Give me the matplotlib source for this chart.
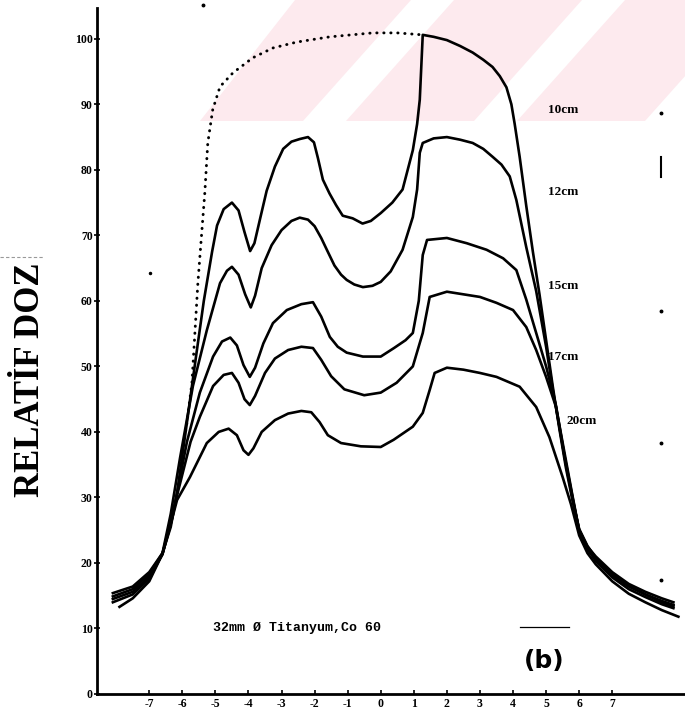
import matplotlib
matplotlib.use("Agg")
import matplotlib.pyplot as plt
from matplotlib.patches import Polygon
from matplotlib.lines import Line2D

# ---------------- data ----------------
x_open = [-6.0, -5.86, -5.71, -5.62, -5.53, -5.45, -5.32, -5.23, -5.08, -4.86, -4.47,
          -3.87, -3.26, -2.54, -1.54, -0.24, 0.5, 1.27]
y_open = [37.0, 41.4, 47.5, 55.1, 62.7, 68.0, 76.5, 84.1, 89.2, 92.7, 94.8,
          97.1, 98.6, 99.5, 100.3, 100.9, 100.9, 100.6]

x10 = [-8.1, -7.5, -7.0, -6.6, -6.35, -6.15, -5.9, -5.6, -5.35, -5.1, -4.95, -4.75, -4.5,
       -4.3, -4.12, -3.95, -3.82, -3.65, -3.45, -3.2, -2.95, -2.7, -2.45, -2.2, -2.02,
       -1.9, -1.75, -1.55, -1.35, -1.15, -0.85, -0.55, -0.3, 0.0, 0.35, 0.66, 0.97, 1.1,
       1.18, 1.27, 1.6, 2.0, 2.4, 2.78, 3.1, 3.38, 3.6, 3.8, 3.95, 4.05, 4.2, 4.4, 4.6,
       4.8, 5.0, 5.2, 5.4, 5.6, 5.8, 6.0, 6.25, 6.5, 7.0, 7.5, 8.0, 8.5, 8.85]
y10 = [15.4, 16.4, 18.6, 21.5, 25.5, 31.0, 40.0, 51.0, 60.0, 67.5, 71.5, 74.0, 75.0,
       73.8, 70.5, 67.6, 68.8, 72.5, 76.8, 80.5, 83.2, 84.3, 84.7, 85.0, 84.2,
       81.8, 78.5, 76.4, 74.6, 73.0, 72.6, 71.8, 72.2, 73.4, 75.0, 77.0, 83.0, 87.0,
       90.7, 100.6, 100.3, 99.8, 98.9, 97.9, 96.8, 95.7, 94.3, 92.6, 90.0, 87.0, 82.0, 74.5, 67.5,
       61.0, 54.0, 47.0, 40.5, 34.5, 29.5, 25.2, 22.6, 20.8, 18.3, 16.5, 15.2, 14.0, 13.4]

x12 = [-8.1, -7.5, -7.0, -6.6, -6.35, -6.07, -5.68, -5.26, -4.86, -4.65, -4.5, -4.3, -4.1,
       -3.93, -3.8, -3.6, -3.3, -3.0, -2.7, -2.45, -2.2, -2.0, -1.8, -1.63, -1.4, -1.2,
       -1.03, -0.8, -0.54, -0.25, 0.0, 0.3, 0.66, 0.97, 1.1, 1.18, 1.27, 1.6, 2.0, 2.4,
       2.78, 3.1, 3.38, 3.65, 3.9, 4.1, 4.4, 4.7, 5.0, 5.2, 5.4, 5.6, 5.8, 6.0, 6.25,
       6.5, 7.0, 7.5, 8.0, 8.5, 8.85]
y12 = [14.9, 16.0, 18.3, 21.5, 27.5, 36.0, 47.0, 55.5, 62.7, 64.6, 65.2, 64.0, 61.0,
       59.0, 60.8, 65.0, 68.5, 70.8, 72.2, 72.7, 72.4, 71.4, 69.6, 67.8, 65.4, 64.0,
       63.2, 62.5, 62.1, 62.3, 62.9, 64.5, 67.8, 72.8, 77.0, 82.6, 84.1, 84.8, 85.0, 84.6,
       84.1, 83.2, 82.0, 80.8, 79.0, 75.4, 68.2, 61.5, 53.0, 46.5, 40.8, 35.0, 29.8, 25.0, 22.2,
       20.3, 17.8, 16.0, 14.8, 13.7, 13.1]

x15 = [-8.1, -7.5, -7.0, -6.6, -6.3, -5.86, -5.47, -5.07, -4.8, -4.55, -4.35, -4.15,
       -3.96, -3.8, -3.55, -3.26, -2.84, -2.4, -2.05, -1.8, -1.54, -1.3, -1.03, -0.54,
       0.0, 0.4, 0.75, 0.97, 1.15, 1.27, 1.4, 2.0, 2.6, 3.2, 3.7, 4.1, 4.4, 4.7, 5.0,
       5.3, 5.55, 5.8, 6.0, 6.25, 6.5, 7.0, 7.5, 8.0, 8.5, 8.85]
y15 = [14.5, 15.6, 17.9, 21.3, 27.0, 38.5, 46.0, 51.5, 53.8, 54.4, 53.2, 50.2,
       48.4, 49.8, 53.5, 56.6, 58.6, 59.5, 59.8, 57.6, 54.5, 53.0, 52.1, 51.5,
       51.5, 52.8, 54.0, 55.1, 60.0, 67.0, 69.3, 69.6, 68.8, 67.8, 66.5, 64.7, 60.2, 55.1, 50.0,
       44.0, 36.5, 30.0, 24.8, 22.0, 20.6, 18.1, 16.4, 15.2, 14.2, 13.6]

x17 = [-8.1, -7.5, -7.0, -6.6, -6.3, -6.0, -5.75, -5.47, -5.07, -4.75, -4.5, -4.3, -4.12,
       -3.96, -3.8, -3.5, -3.2, -2.8, -2.4, -2.05, -1.8, -1.5, -1.1, -0.5, 0.0, 0.48,
       0.97, 1.27, 1.48, 2.0, 2.5, 3.0, 3.5, 4.0, 4.4, 4.7, 5.0, 5.3, 5.55, 5.8, 6.0,
       6.25, 6.5, 7.0, 7.5, 8.0, 8.5, 8.85]
y17 = [14.0, 15.2, 17.6, 21.4, 27.5, 33.5, 38.5, 42.3, 47.0, 48.7, 49.0, 47.5, 45.0,
       44.1, 45.5, 49.0, 51.2, 52.5, 53.0, 52.8, 51.0, 48.5, 46.5, 45.6, 46.0, 47.5,
       50.0, 55.1, 60.6, 61.4, 61.0, 60.6, 59.7, 58.6, 56.0, 52.5, 48.4, 43.8, 37.0, 30.2, 25.0,
       22.5, 21.0, 18.6, 16.8, 15.6, 14.6, 14.0]

x20 = [-7.9, -7.5, -7.0, -6.6, -6.4, -6.16, -5.77, -5.26, -4.9, -4.6, -4.35, -4.15, -4.0,
       -3.85, -3.6, -3.2, -2.8, -2.4, -2.1, -1.85, -1.6, -1.2, -0.6, 0.0, 0.39, 0.97,
       1.27, 1.48, 1.63, 2.0, 2.5, 3.0, 3.5, 4.2, 4.7, 5.1, 5.5, 5.75, 6.0, 6.25, 6.5,
       7.0, 7.5, 8.0, 8.5, 9.0]
y20 = [13.3, 14.6, 17.2, 21.4, 25.0, 29.6, 33.1, 38.3, 40.0, 40.5, 39.5, 37.2, 36.5,
       37.5, 40.0, 41.8, 42.8, 43.2, 43.0, 41.5, 39.5, 38.3, 37.8, 37.7, 38.8, 40.8,
       42.9, 46.4, 49.0, 49.8, 49.5, 49.0, 48.4, 46.9, 43.8, 39.2, 33.1, 29.0, 24.2, 21.5, 19.8,
       17.2, 15.3, 14.0, 12.8, 11.8]

curve_labels = ["10cm", "12cm", "15cm", "17cm", "20cm"]
label_x = [5.05, 5.05, 5.05, 5.05, 5.62]
label_y = [89.2, 76.6, 62.2, 51.5, 41.7]

y_ticks = [0, 10, 20, 30, 40, 50, 60, 70, 80, 90, 100]
x_ticks = [-7, -6, -5, -4, -3, -2, -1, 0, 1, 2, 3, 4, 5, 6, 7]

# ---------------- figure ----------------
W, H = 685, 709
fig = plt.figure(figsize=(W / 100, H / 100), dpi=100)
fig.patch.set_facecolor("white")


def fx(px):
    return px / W


def fy(py):
    return 1 - py / H


def fpoly(pts, **kw):
    return Polygon([(fx(a), fy(b)) for a, b in pts], closed=True,
                   transform=fig.transFigure, **kw)


# pink diagonal watermark at top
pink = "#fdeaee"
fig.patches.append(fpoly([(200, 121), (295, 0), (W + 5, 0), (W + 5, 121)],
                         facecolor=pink, edgecolor="none", zorder=-5))
shift, wid = 108, 43
for s in [303, 474, 645]:
    fig.patches.append(fpoly([(s, 121), (s + wid, 121), (s + wid + shift, 0), (s + shift, 0)],
                             facecolor="white", edgecolor="none", zorder=-4))

ax = fig.add_axes([fx(97), 1 - 694 / H, fx(685) - fx(97), 686 / H])
ax.patch.set_alpha(0)
ax.set_xlim(-8.58, 9.2)
ax.set_ylim(0, 104.7)

lw = 1.9
ax.plot(x_open, y_open, color="black", lw=2.1, ls=(0, (0.1, 2.3)),
        dash_capstyle="round", zorder=3)
for xs, ys in [(x10, y10), (x12, y12), (x15, y15), (x17, y17), (x20, y20)]:
    ax.plot(xs, ys, color="black", lw=lw, solid_joinstyle="round", zorder=3)

for t, lx, ly in zip(curve_labels, label_x, label_y):
    ax.text(lx, ly, t, fontsize=9.5, fontweight="bold", family="Liberation Serif",
            ha="left", va="center")

ax.text(-5.08, 10.1, "32mm Ø Titanyum,Co 60", fontsize=9.5, fontweight="bold",
        family="Liberation Mono", ha="left", va="center")
ax.plot([4.2, 5.7], [10.2, 10.2], color="black", lw=0.9)
ax.text(4.95, 5.1, "(b)", fontsize=18, fontweight="bold", family="DejaVu Sans",
        ha="center", va="center")

for sp in ["top", "right"]:
    ax.spines[sp].set_visible(False)
ax.spines["left"].set_linewidth(2.0)
ax.spines["bottom"].set_linewidth(2.0)

ax.set_yticks(y_ticks)
ax.set_yticklabels([str(v) for v in y_ticks], fontsize=8.5, fontweight="bold",
                   family="Liberation Serif")
ax.set_xticks(x_ticks)
ax.set_xticklabels([str(v) if v >= 0 else "-" + str(-v) for v in x_ticks],
                   fontsize=8.5, fontweight="bold", family="Liberation Serif")
ax.tick_params(axis="y", direction="inout", length=4, width=1.2, pad=1)
ax.tick_params(axis="x", direction="in", length=3, width=1.2, pad=3)

fig.text(0.044, fy(380), "RELATİF DOZ", rotation=90, fontsize=25, fontweight="bold",
         family="Liberation Serif", ha="center", va="center")

# scan specks / marks
fig.lines.append(Line2D([fx(661), fx(661)], [fy(157), fy(177)], color="black", lw=1.5,
                        transform=fig.transFigure))
for py in [113, 311, 443, 580]:
    fig.lines.append(Line2D([fx(661)], [fy(py)], marker="o", ms=1.8, color="black",
                            transform=fig.transFigure))
fig.lines.append(Line2D([fx(203)], [fy(5)], marker="o", ms=1.8, color="black",
                        transform=fig.transFigure))
fig.lines.append(Line2D([fx(150)], [fy(273)], marker="o", ms=1.5, color="black",
                        transform=fig.transFigure))
fig.lines.append(Line2D([fx(0), fx(43)], [fy(257), fy(257)], color="#999999", lw=0.8,
                        ls=(0, (3, 2)), transform=fig.transFigure))

fig.savefig("out.png", dpi=100)
